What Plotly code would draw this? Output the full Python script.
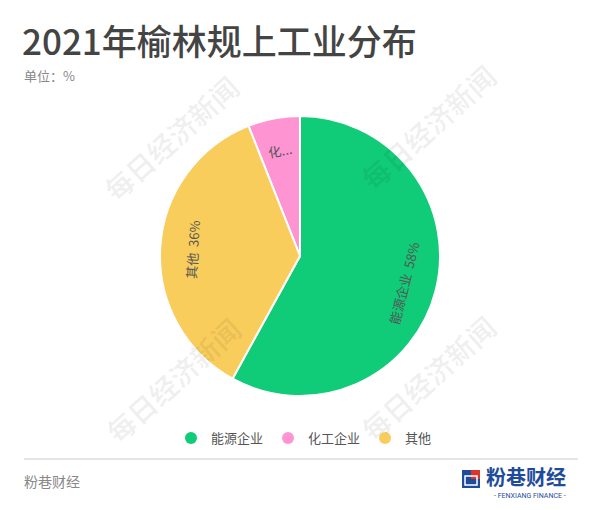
import math
import plotly.graph_objects as go

# data
labels = ["能源企业", "化工企业", "其他"]
values = [58, 6, 36]
slice_text = ["能源企业  58%", "化...", "其他  36%"]
colors = ["#10CB77", "#FF94D2", "#F9CD5C"]

title = "2021年榆林规上工业分布"
unit = "单位：%"
source = "粉巷财经"
watermark = "每日经济新闻"

# the page body keeps its default 8px margin, so the figure is drawn 8px in
OFF = 8
W, H = 600 - OFF, 510 - OFF
FONT = "Noto Sans CJK SC"


def px(x):
    return (x - OFF) / W


def py(y):
    return 1 - (y - OFF) / H


fig = go.Figure()

# pie: first slice runs clockwise from 12 o'clock, the rest go counterclockwise
cx, cy, r = 300, 256, 140
fig.add_trace(go.Pie(
    labels=labels,
    values=values,
    textinfo="none",
    hoverinfo="label+percent",
    sort=False,
    direction="counterclockwise",
    rotation=0,
    marker=dict(colors=colors, line=dict(color="white", width=2)),
    domain=dict(x=[px(cx - r), px(cx + r)], y=[py(cy + r), py(cy - r)]),
    showlegend=False,
))

# legend with round markers
for name, c in zip(labels, colors):
    fig.add_trace(go.Scatter(
        x=[None], y=[None], mode="markers", name=name,
        marker=dict(color=c, size=12, symbol="circle"),
    ))

annotations = [
    dict(text=title, x=px(20), y=py(40), xanchor="left", yanchor="middle",
         font=dict(family=FONT, size=35, color="#444444", weight=500)),
    dict(text=unit, x=px(22), y=py(75), xanchor="left", yanchor="middle",
         font=dict(family=FONT, size=13, color="#888888")),
    dict(text=source, x=px(22), y=py(481), xanchor="left", yanchor="middle",
         font=dict(family=FONT, size=14, color="#888888")),
    # logo text
    dict(text="<b>粉巷财经</b>", x=px(484), y=py(476), xanchor="left", yanchor="middle",
         font=dict(family=FONT, size=20, color="#1F4C9A")),
    dict(text="- FENXIANG FINANCE -", x=px(530), y=py(496), xanchor="center", yanchor="middle",
         font=dict(family="Roboto", size=7, color="#1F4C9A")),
]

# slice labels, tangential, placed along each slice's middle angle
# (first slice clockwise from 12 o'clock, the others counterclockwise)
total = sum(values)
spans = [v / total * 360 for v in values]
mids = [spans[0] / 2]
edge = 360.0
for s in spans[1:]:
    mids.append(edge - s / 2)
    edge -= s
for t, th in zip(slice_text, mids):
    rad = math.radians(th)
    tx = cx + 0.77 * r * math.sin(rad)
    ty = cy - 0.77 * r * math.cos(rad)
    ang = th - 180 if th < 180 else th - 360
    annotations.append(dict(
        text=t, x=px(tx), y=py(ty), xanchor="center", yanchor="middle", textangle=ang,
        font=dict(family=FONT, size=13, color="#555555"),
    ))

# faint watermarks
for wx, wy in [(171, 138), (428, 127), (173, 380), (428, 378)]:
    annotations.append(dict(
        text="<b>" + watermark + "</b>", x=px(wx), y=py(wy), xanchor="center", yanchor="middle",
        textangle=-42, font=dict(family=FONT, size=28, color="rgba(0,0,0,0.06)"),
    ))

for a in annotations:
    a["showarrow"] = False
    a["xref"] = "paper"
    a["yref"] = "paper"

shapes = [
    dict(type="line", xref="paper", yref="paper", x0=px(24), x1=px(578), y0=py(459), y1=py(459),
         line=dict(color="#CCCCCC", width=1)),
    # logo icon
    dict(type="rect", xref="paper", yref="paper", x0=px(462), x1=px(480), y0=py(488), y1=py(470),
         fillcolor="#1F4C9A", line=dict(width=0)),
    dict(type="rect", xref="paper", yref="paper", x0=px(471), x1=px(480), y0=py(479), y1=py(470),
         fillcolor="#D9352B", line=dict(width=0)),
    dict(type="rect", xref="paper", yref="paper", x0=px(465), x1=px(477), y0=py(485), y1=py(476),
         fillcolor="rgba(0,0,0,0)", line=dict(color="white", width=1.5)),
]

fig.update_layout(
    width=W, height=H,
    margin=dict(l=0, r=0, t=0, b=0),
    paper_bgcolor="white",
    plot_bgcolor="white",
    xaxis=dict(visible=False),
    yaxis=dict(visible=False),
    annotations=annotations,
    shapes=shapes,
    legend=dict(
        orientation="h", x=0.5, xanchor="center", y=py(438), yanchor="middle",
        font=dict(family=FONT, size=13, color="#555555"),
        itemsizing="constant",
    ),
)

fig.write_html("out.html")
